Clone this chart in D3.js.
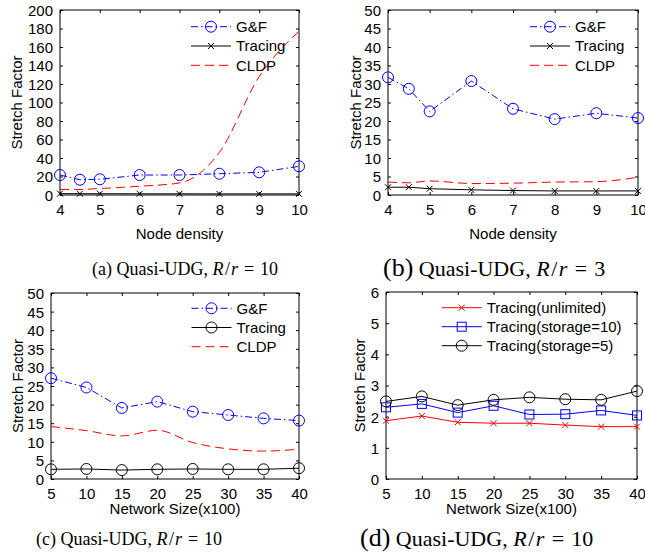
<!DOCTYPE html>
<html>
<head>
<meta charset="utf-8">
<script src="https://cdn.jsdelivr.net/npm/d3@7/dist/d3.min.js"></script>
<style>
  body { margin: 0; background: #fff; }
  svg { display: block; }
  .tick text { font-family: "Liberation Sans", Arial, sans-serif; font-size: 15px; fill: #000; }
  .lbl { font-family: "Liberation Sans", Arial, sans-serif; font-size: 15px; fill: #000; }
  .cap { font-family: "Liberation Serif", "Times New Roman", serif; fill: #000; }
</style>
</head>
<body>
<svg id="chart" width="645" height="556"></svg>
<script>
// --- data ---
var densityX = [4, 4.5, 5, 6, 7, 8, 9, 10];
var densityTicks = [4, 5, 6, 7, 8, 9, 10];

var gfA = [21.6, 16.5, 17, 21.6, 21.6, 23, 24.5, 31];
var tracingA = [1.5, 1.4, 1.4, 1.3, 1.3, 1.2, 1.2, 1.2];
var cldpA = [6, 6, 7, 9.5, 13, 46, 128, 177];

var gfB = [31.8, 28.7, 22.6, 30.8, 23.3, 20.5, 22.1, 20.8];
var tracingB = [2.1, 2.1, 1.7, 1.4, 1.2, 1.1, 1.1, 1.1];
var cldpB = [3.5, 3.3, 3.8, 3.1, 3.2, 3.5, 3.6, 4.8];

var sizeX = [5, 10, 15, 20, 25, 30, 35, 40];

var gfC = [27.1, 24.6, 19.1, 20.8, 18.1, 17.2, 16.3, 15.7];
var tracingC = [2.6, 2.7, 2.4, 2.6, 2.7, 2.6, 2.6, 2.9];
var cldpC = [14.1, 13.0, 11.6, 13.1, 9.8, 8.1, 7.5, 8.0];

var unlimitedD = [1.87, 2.02, 1.82, 1.79, 1.79, 1.73, 1.68, 1.68];
var storage10D = [2.30, 2.41, 2.13, 2.35, 2.07, 2.08, 2.20, 2.04];
var storage5D = [2.49, 2.65, 2.37, 2.54, 2.62, 2.56, 2.54, 2.82];

var svg = d3.select('#chart');

function drawPanel(p) {
  var g = svg.append('g');
  var x = d3.scaleLinear().domain(p.xDomain).range([p.left, p.right]);
  var y = d3.scaleLinear().domain(p.yDomain).range([p.bottom, p.top]);

  // axes, ticks pointing inward like matlab
  var bottomAxis = g.append('g').attr('transform', 'translate(0,' + p.bottom + ')')
    .call(d3.axisBottom(x).tickValues(p.xTicks).tickSizeInner(-3).tickSizeOuter(0).tickPadding(9).tickFormat(d3.format('d')));
  var leftAxis = g.append('g').attr('transform', 'translate(' + p.left + ',0)')
    .call(d3.axisLeft(y).tickValues(p.yTicks).tickSizeInner(-3).tickSizeOuter(0).tickPadding(7).tickFormat(d3.format('d')));
  g.append('g').attr('transform', 'translate(0,' + p.top + ')')
    .call(d3.axisTop(x).tickValues(p.xTicks).tickSizeInner(-3).tickSizeOuter(0).tickFormat(''));
  g.append('g').attr('transform', 'translate(' + p.right + ',0)')
    .call(d3.axisRight(y).tickValues(p.yTicks).tickSizeInner(-3).tickSizeOuter(0).tickFormat(''));
  g.selectAll('.domain').remove();
  g.selectAll('.tick line').attr('stroke', '#000');
  leftAxis.selectAll('.tick text').attr('dy', '0.36em');
  bottomAxis.selectAll('.tick text').attr('dy', '0.71em');

  g.append('rect')
    .attr('x', p.left).attr('y', p.top)
    .attr('width', p.right - p.left).attr('height', p.bottom - p.top)
    .attr('fill', 'none').attr('stroke', '#000').attr('stroke-width', 1);

  // series
  p.series.forEach(function(s) {
    var pts = p.xs.map(function(d, i) { return [d, s.values[i]]; });
    var line = d3.line()
      .x(function(d) { return x(d[0]); })
      .y(function(d) { return y(d[1]); })
      .curve(s.smooth ? d3.curveMonotoneX : d3.curveLinear);
    g.append('path').datum(pts)
      .attr('d', line)
      .attr('fill', 'none')
      .attr('stroke', s.color)
      .attr('stroke-width', 1)
      .attr('stroke-dasharray', s.dash || null);
    pts.forEach(function(d) { drawMarker(g, s.marker, x(d[0]), y(d[1]), s.color); });
  });

  // legend (no box)
  p.series.forEach(function(s, i) {
    var ly = p.legendY + i * p.legendStep;
    g.append('line')
      .attr('x1', p.legendX).attr('x2', p.legendX + 40)
      .attr('y1', ly).attr('y2', ly)
      .attr('stroke', s.color).attr('stroke-width', 1)
      .attr('stroke-dasharray', s.dash || null);
    drawMarker(g, s.marker, p.legendX + 20, ly, s.color);
    g.append('text').attr('class', 'lbl')
      .attr('x', p.legendX + 45).attr('y', ly).attr('dy', '0.36em')
      .text(s.name);
  });

  // axis labels
  g.append('text').attr('class', 'lbl')
    .attr('text-anchor', 'middle')
    .attr('x', (p.left + p.right) / 2).attr('y', p.xLabelY)
    .text(p.xLabel);
  g.append('text').attr('class', 'lbl')
    .attr('text-anchor', 'middle')
    .attr('transform', 'translate(' + p.yLabelX + ',' + (p.top + p.bottom) / 2 + ') rotate(-90)')
    .text('Stretch Factor');

  // caption, with latex-like spacing round the math
  var c = p.cap;
  var cap = g.append('text').attr('class', 'cap')
    .attr('x', c.x).attr('y', c.y).style('font-size', c.size + 'px');
  cap.append('tspan').style('font-size', c.tagSize + 'px').text(c.tag);
  cap.append('tspan').text(' Quasi-UDG, ');
  cap.append('tspan').style('font-style', 'italic').text('R');
  cap.append('tspan').attr('dx', '0.08em').text('/');
  cap.append('tspan').attr('dx', '0.06em').style('font-style', 'italic').text('r');
  cap.append('tspan').attr('dx', '0.33em').text('=');
  cap.append('tspan').attr('dx', '0.33em').text(c.val);
}

function drawMarker(g, type, cx, cy, color) {
  if (type === 'circle') {
    g.append('circle').attr('cx', cx).attr('cy', cy).attr('r', 5.5)
      .attr('fill', 'none').attr('stroke', color).attr('stroke-width', 1);
  } else if (type === 'x') {
    var r = 3;
    g.append('path')
      .attr('d', 'M' + (cx - r) + ',' + (cy - r) + 'L' + (cx + r) + ',' + (cy + r) +
                 'M' + (cx - r) + ',' + (cy + r) + 'L' + (cx + r) + ',' + (cy - r))
      .attr('stroke', color).attr('stroke-width', 1);
  } else if (type === 'square') {
    g.append('rect').attr('x', cx - 4.5).attr('y', cy - 4.5).attr('width', 9).attr('height', 9)
      .attr('fill', 'none').attr('stroke', color).attr('stroke-width', 1);
  }
}

var dashDot = '7,3,1.5,3';
var dashed = '9,5';

drawPanel({
  left: 60, right: 299, top: 10, bottom: 195,
  xDomain: [4, 10], yDomain: [0, 200], xs: densityX,
  xTicks: densityTicks, yTicks: d3.range(0, 201, 20),
  series: [
    { name: 'G&F', values: gfA, color: '#0000ff', marker: 'circle', dash: dashDot },
    { name: 'Tracing', values: tracingA, color: '#000000', marker: 'x' },
    { name: 'CLDP', values: cldpA, color: '#ff0000', marker: null, dash: dashed, smooth: true }
  ],
  legendX: 191, legendY: 26.7, legendStep: 19.3,
  xLabel: 'Node density', xLabelY: 239, yLabelX: 22,
  cap: { x: 92, y: 275, size: 18, tagSize: 18, tag: '(a)', val: '10' }
});

drawPanel({
  left: 388, right: 638, top: 10, bottom: 195,
  xDomain: [4, 10], yDomain: [0, 50], xs: densityX,
  xTicks: densityTicks, yTicks: d3.range(0, 51, 5),
  series: [
    { name: 'G&F', values: gfB, color: '#0000ff', marker: 'circle', dash: dashDot },
    { name: 'Tracing', values: tracingB, color: '#000000', marker: 'x' },
    { name: 'CLDP', values: cldpB, color: '#ff0000', marker: null, dash: dashed, smooth: true }
  ],
  legendX: 530, legendY: 26.7, legendStep: 19.3,
  xLabel: 'Node density', xLabelY: 239, yLabelX: 361,
  cap: { x: 383, y: 276, size: 22, tagSize: 26, tag: '(b)', val: '3' }
});

drawPanel({
  left: 51, right: 299, top: 293, bottom: 479,
  xDomain: [5, 40], yDomain: [0, 50], xs: sizeX,
  xTicks: sizeX, yTicks: d3.range(0, 51, 5),
  series: [
    { name: 'G&F', values: gfC, color: '#0000ff', marker: 'circle', dash: dashDot },
    { name: 'Tracing', values: tracingC, color: '#000000', marker: 'circle' },
    { name: 'CLDP', values: cldpC, color: '#ff0000', marker: null, dash: dashed, smooth: true }
  ],
  legendX: 191.5, legendY: 308.3, legendStep: 19.2,
  xLabel: 'Network Size(x100)', xLabelY: 514, yLabelX: 23,
  cap: { x: 36, y: 545, size: 18, tagSize: 18, tag: '(c)', val: '10' }
});

drawPanel({
  left: 386, right: 637, top: 292, bottom: 479,
  xDomain: [5, 40], yDomain: [0, 6], xs: sizeX,
  xTicks: sizeX, yTicks: d3.range(0, 7, 1),
  series: [
    { name: 'Tracing(unlimited)', values: unlimitedD, color: '#ff0000', marker: 'x' },
    { name: 'Tracing(storage=10)', values: storage10D, color: '#0000ff', marker: 'square' },
    { name: 'Tracing(storage=5)', values: storage5D, color: '#000000', marker: 'circle' }
  ],
  legendX: 441.7, legendY: 307.7, legendStep: 19,
  xLabel: 'Network Size(x100)', xLabelY: 514, yLabelX: 365,
  cap: { x: 360, y: 546, size: 22, tagSize: 26, tag: '(d)', val: '10' }
});
</script>
</body>
</html>
